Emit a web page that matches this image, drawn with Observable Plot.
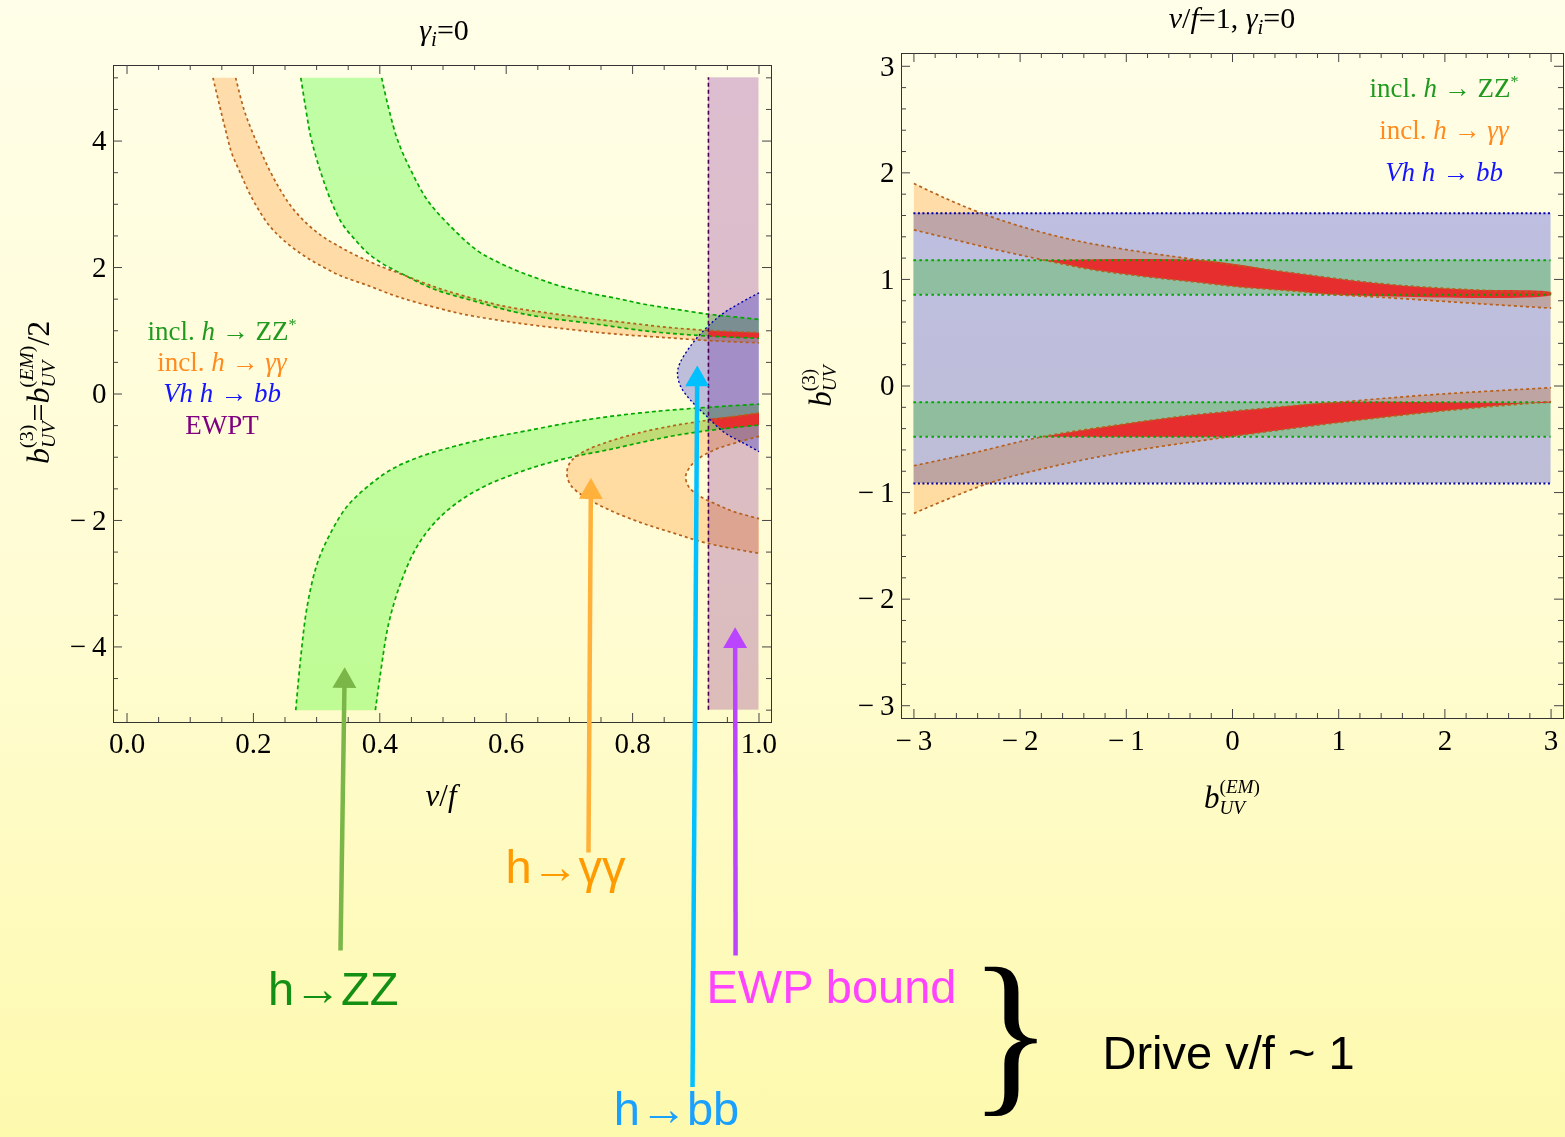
<!DOCTYPE html>
<html><head><meta charset="utf-8">
<script src="https://cdn.jsdelivr.net/npm/d3@7"></script>
<script src="https://cdn.jsdelivr.net/npm/@observablehq/plot@0.6"></script>
<style>
html,body{margin:0;padding:0;}
#page{position:relative;width:1565px;height:1137px;overflow:hidden;background:linear-gradient(180deg,#fffee8 0%,#fffcd2 55%,#fdf9ad 100%);}
#page svg{position:absolute;left:0;top:0;}
.t{position:absolute;left:0;top:0;font-family:"Liberation Serif",serif;white-space:nowrap;line-height:1;color:#000;}
.mk{display:inline-block;width:0;height:0;}
.sb{font-size:0.7em;position:relative;top:0.3em;}
.sp{font-size:0.6em;position:relative;top:-0.6em;}
.st{display:inline-flex;flex-direction:column;font-size:0.62em;line-height:1.1;vertical-align:0.8em;}
</style></head><body><div id="page"></div>
<script>
// ================= DATA =================
// ---- Left panel: x = v/f, y = b_UV^(3) = b_UV^(EM)/2 ----
const zzUpperOuter = [[0.403,5.0],[0.412,4.60],[0.428,4.02],[0.449,3.54],[0.475,3.07],[0.507,2.70],[0.554,2.27],[0.586,2.09],[0.617,1.95],[0.649,1.83],[0.681,1.72],[0.712,1.64],[0.744,1.57],[0.781,1.50],[0.813,1.43],[0.849,1.37],[0.881,1.32],[0.921,1.26],[0.950,1.23],[1.0,1.18]];
const zzUpperInner = [[0.275,5.0],[0.283,4.50],[0.290,4.10],[0.299,3.75],[0.310,3.40],[0.323,3.05],[0.340,2.70],[0.360,2.45],[0.382,2.22],[0.406,2.05],[0.433,1.91],[0.485,1.66],[0.549,1.47],[0.612,1.30],[0.660,1.21],[0.739,1.11],[0.818,1.00],[0.897,0.93],[1.0,0.88]];
const zzLowerOuter = [[0.267,-5.0],[0.275,-4.15],[0.285,-3.36],[0.301,-2.68],[0.322,-2.20],[0.348,-1.78],[0.380,-1.47],[0.417,-1.20],[0.464,-0.99],[0.517,-0.83],[0.570,-0.70],[0.623,-0.60],[0.654,-0.54],[0.707,-0.44],[0.760,-0.36],[0.812,-0.30],[0.865,-0.25],[0.950,-0.19],[1.0,-0.16]];
const zzLowerInner = [[0.393,-5.0],[0.401,-4.42],[0.414,-3.63],[0.433,-2.99],[0.459,-2.41],[0.491,-1.99],[0.528,-1.68],[0.570,-1.44],[0.617,-1.25],[0.660,-1.11],[0.707,-0.99],[0.760,-0.885],[0.812,-0.77],[0.865,-0.66],[0.918,-0.58],[1.0,-0.49]];
const aaUpperOuter = [[0.136,5.0],[0.156,4.17],[0.166,3.80],[0.180,3.48],[0.193,3.19],[0.209,2.90],[0.227,2.64],[0.248,2.43],[0.275,2.22],[0.301,2.06],[0.338,1.87],[0.380,1.72],[0.422,1.56],[0.454,1.46],[0.507,1.32],[0.533,1.26],[0.612,1.13],[0.702,1.02],[0.770,0.95],[0.855,0.89],[0.929,0.84],[1.0,0.81]];
const aaUpperInner = [[0.172,5.0],[0.185,4.50],[0.198,4.15],[0.211,3.85],[0.227,3.51],[0.243,3.22],[0.261,2.95],[0.285,2.69],[0.311,2.48],[0.338,2.32],[0.369,2.16],[0.406,2.00],[0.433,1.90],[0.485,1.70],[0.530,1.56],[0.596,1.39],[0.660,1.29],[0.728,1.20],[0.797,1.12],[0.860,1.05],[0.929,1.00],[1.0,0.97]];
const aaLowerOuter = [[1.0,-0.30],[0.929,-0.40],[0.902,-0.44],[0.865,-0.50],[0.812,-0.61],[0.760,-0.76],[0.723,-0.91],[0.702,-1.07],[0.696,-1.25],[0.702,-1.44],[0.723,-1.62],[0.760,-1.82],[0.812,-2.03],[0.865,-2.20],[0.918,-2.36],[1.0,-2.52]];
const aaLowerInner = [[1.0,-0.67],[0.971,-0.75],[0.929,-0.885],[0.902,-1.04],[0.889,-1.18],[0.884,-1.31],[0.889,-1.47],[0.907,-1.62],[0.934,-1.75],[0.960,-1.86],[1.0,-1.97]];
const bbBoundary = [[1.0,1.60],[0.944,1.28],[0.913,1.01],[0.891,0.75],[0.875,0.49],[0.871,0.33],[0.876,0.12],[0.891,-0.09],[0.918,-0.36],[0.944,-0.60],[0.976,-0.78],[1.0,-0.91]];
const ewptBand = [{x1:0.92, x2:1.0, y1:-5, y2:5}];
const redLeftUpper = [[0.92,1.00],[0.96,0.985],[1.0,0.97],[1.0,0.885],[0.96,0.895],[0.92,0.91]];
const redLeftLower = [[0.921,-0.39],[0.96,-0.35],[1.0,-0.30],[1.0,-0.49],[0.97,-0.525],[0.943,-0.555],[0.93,-0.47]];

// tick values / labels (left)
const xTicksL = [0, 0.2, 0.4, 0.6, 0.8, 1.0];
const xTickLabelsL = ["0.0", "0.2", "0.4", "0.6", "0.8", "1.0"];
const yTicksL = [-4, -2, 0, 2, 4];
const yTickLabelsL = ["\u2212\u20094", "\u2212\u20092", "0", "2", "4"];

// annotations (in left-panel coordinates)
const arrows = [
  {x1:0.3378, y1:-8.80, x2:0.3441, y2:-4.32, color:"#7ab648"},
  {x1:0.7302, y1:-7.25, x2:0.7339, y2:-1.33, color:"#ffb13b"},
  {x1:0.8948, y1:-10.96, x2:0.9022, y2:0.45, color:"#00c0ff"},
  {x1:0.9630, y1:-8.88, x2:0.9623, y2:-3.69, color:"#bb44ff"}
];
const notes = [
  {text:"h\u2192ZZ", x:0.3263, y:-9.42, color:"#139013"},
  {text:"h\u2192\u03b3\u03b3", x:0.6938, y:-7.50, color:"#ff9a00"},
  {text:"EWP bound", x:1.1147, y:-9.40, color:"#ff44ff"},
  {text:"h\u2192bb", x:0.8695, y:-11.33, color:"#1aa0ff"},
  {text:"Drive v/f ~ 1", x:1.7430, y:-10.44, color:"#000000"}
];

// ---- Right panel: x = b_UV^(EM), y = b_UV^(3), v/f = 1 ----
const bRangeR = [-3, 3];
const bbBandR = [-0.915, 1.62];
const zzBandsR = [[0.857, 1.18], [-0.476, -0.153]];
const aaUpperTopR = [[-3.0,1.90],[-2.7,1.76],[-2.4,1.635],[-2.0,1.50],[-1.5,1.37],[-1.0,1.28],[-0.3,1.18],[0.5,1.07],[1.4,0.96],[2.2,0.905],[3.0,0.876]];
const aaUpperBotR = [[-3.0,1.465],[-2.69,1.39],[-2.23,1.28],[-1.77,1.18],[-1.31,1.09],[-0.85,1.03],[-0.39,0.98],[0.07,0.93],[0.53,0.895],[0.98,0.857],[1.44,0.83],[1.90,0.80],[2.36,0.77],[3.0,0.73]];
const aaLowerTopR = [[-3.0,-0.748],[-2.46,-0.632],[-1.79,-0.476],[-1.08,-0.366],[-0.39,-0.275],[0.3,-0.21],[0.98,-0.153],[1.9,-0.08],[3.0,-0.016]];
const aaLowerBotR = [[-3.0,-1.195],[-2.30,-0.914],[-1.77,-0.773],[-1.08,-0.632],[-0.03,-0.476],[0.98,-0.345],[1.90,-0.241],[3.0,-0.147]];
const redRightUpper = [[-1.77,1.18],[-0.3,1.18],[0.5,1.07],[1.4,0.96],[2.2,0.905],[3.0,0.876],[3.0,0.857],[0.98,0.857],[0.53,0.895],[0.07,0.93],[-0.39,0.98],[-0.85,1.03],[-1.31,1.09]];
const redRightLower = [[-1.79,-0.476],[-1.08,-0.366],[-0.39,-0.275],[0.3,-0.21],[0.98,-0.153],[3.0,-0.153],[3.0,-0.15],[1.90,-0.241],[0.98,-0.345],[-0.03,-0.476]];

const xTicksR = [-3, -2, -1, 0, 1, 2, 3];
const xTickLabelsR = ["\u2212\u20093", "\u2212\u20092", "\u2212\u20091", "0", "1", "2", "3"];
const yTicksR = [-3, -2, -1, 0, 1, 2, 3];
const yTickLabelsR = ["\u2212\u20093", "\u2212\u20092", "\u2212\u20091", "0", "1", "2", "3"];

// ================= STYLE =================
const W = 1565, H = 1137;
const C = {
  zzFill: "#c0ffb9", aaFill: "#ffdebf", bbFill: "#bec0ff", ewFill: "#dcbfe8", red: "#e62e2e",
  zzLine: "#00a800", aaLine: "#b5611c", bbLine: "#0000a8", ewLine: "#4a0050"
};
const FONT = "Liberation Serif";
const TICKFS = 29;

const poly = (...edges) => { const o = []; for (const e of edges) o.push(e[0], ...e, e[e.length - 1]); return o; };
const rev = a => a.slice().reverse();
const P = {x: d => d[0], y: d => d[1]};
const fillLine = (pts, fill, blend = true) =>
  Plot.line(pts, {...P, fill, stroke: "none", curve: "catmull-rom", mixBlendMode: blend ? "multiply" : undefined});
const edgeLine = (pts, stroke, dash, sw = 1.7) =>
  Plot.line(pts, {...P, stroke, strokeWidth: sw, strokeDasharray: dash, strokeLinecap: "butt", curve: "catmull-rom"});

function frameTicks(xMaj, xMin, yMaj, yMin, fw, fh) {
  const L = 9, S = 5, st = {stroke: "#444", strokeWidth: 1};
  const m = [];
  for (const [vals, len] of [[xMaj, L], [xMin, S]]) {
    m.push(Plot.tickX(vals, {x: d => d, insetTop: fh - len, ...st}));
    m.push(Plot.tickX(vals, {x: d => d, insetBottom: fh - len, ...st}));
  }
  for (const [vals, len] of [[yMaj, L], [yMin, S]]) {
    m.push(Plot.tickY(vals, {y: d => d, insetRight: fw - len, ...st}));
    m.push(Plot.tickY(vals, {y: d => d, insetLeft: fw - len, ...st}));
  }
  return m;
}
const minors = (a, b, step, majors) => d3.range(Math.round((b - a) / step) + 1).map(i => +(a + i * step).toFixed(4)).filter(v => !majors.some(M => Math.abs(M - v) < 1e-6));

// ================= LEFT PLOT =================
const mL = {top: 65, right: 794, bottom: 415, left: 113};
const xDomL = [-0.0214, 1.0198], yDomL = [-5.195, 5.195];
const fwL = W - mL.left - mL.right, fhL = H - mL.top - mL.bottom;
const kxL = fwL / (xDomL[1] - xDomL[0]), kyL = fhL / (yDomL[1] - yDomL[0]);

const leftPlot = Plot.plot({
  width: W, height: H,
  marginTop: mL.top, marginRight: mL.right, marginBottom: mL.bottom, marginLeft: mL.left,
  x: {domain: xDomL, axis: null}, y: {domain: yDomL, axis: null},
  color: {type: "identity"},
  style: {background: "transparent", overflow: "visible"},
  marks: [
    fillLine(poly(zzUpperOuter, rev(zzUpperInner)), C.zzFill),
    fillLine(poly(zzLowerOuter, rev(zzLowerInner)), C.zzFill),
    fillLine(poly(aaUpperOuter, rev(aaUpperInner)), C.aaFill),
    fillLine(poly(aaLowerOuter, rev(aaLowerInner)), C.aaFill),
    fillLine(poly(bbBoundary), C.bbFill),
    Plot.rect(ewptBand, {x1: "x1", x2: "x2", y1: "y1", y2: "y2", fill: C.ewFill, mixBlendMode: "multiply"}),
    Plot.line(redLeftUpper, {...P, fill: C.red, stroke: "none"}),
    Plot.line(redLeftLower, {...P, fill: C.red, stroke: "none"}),
    edgeLine(zzUpperOuter, C.zzLine, "4,3"), edgeLine(zzUpperInner, C.zzLine, "4,3"),
    edgeLine(zzLowerOuter, C.zzLine, "4,3"), edgeLine(zzLowerInner, C.zzLine, "4,3"),
    edgeLine(aaUpperOuter, C.aaLine, "3,3"), edgeLine(aaUpperInner, C.aaLine, "3,3"),
    edgeLine(aaLowerOuter, C.aaLine, "3,3"), edgeLine(aaLowerInner, C.aaLine, "3,3"),
    edgeLine(bbBoundary, C.bbLine, "2,2.5", 1.4),
    Plot.ruleX(ewptBand, {x: "x1", y1: "y1", y2: "y2", stroke: C.ewLine, strokeWidth: 1.6, strokeDasharray: "4,3"}),
    Plot.frame({stroke: "#333", strokeWidth: 1}),
    ...frameTicks(xTicksL, minors(0, 1, 0.05, xTicksL), yTicksL, minors(-5, 5, 0.5, yTicksL), fwL, fhL),
    Plot.text(xTicksL, {x: d => d, frameAnchor: "bottom", dy: 30, text: (d, i) => xTickLabelsL[i], fontFamily: FONT, fontSize: TICKFS, fill: "#000"}),
    Plot.text(yTicksL, {y: d => d, frameAnchor: "left", dx: -7, textAnchor: "end", text: (d, i) => yTickLabelsL[i], fontFamily: FONT, fontSize: TICKFS, fill: "#000"}),
    // annotation arrows
    Plot.link(arrows, {x1: "x1", y1: "y1", x2: "x2", y2: d => d.y2 - 16 / kyL, stroke: "color", strokeWidth: 4.5}),
    Plot.dot(arrows, {x: "x2", y: "y2", symbol: "triangle", r: 8.9, fill: "color", dy: 13.8,
      rotate: d => Math.atan2((d.x2 - d.x1) * kxL, (d.y2 - d.y1) * kyL) * 180 / Math.PI}),
    Plot.text(notes, {x: "x", y: "y", text: "text", fill: "color", fontFamily: "Liberation Sans", fontSize: 47, lineAnchor: "middle"})
  ]
});

// ================= RIGHT PLOT =================
const mR = {top: 53, right: 2, bottom: 419, left: 901};
const xDomR = [-3.117, 3.117], yDomR = [-3.12, 3.12];
const fwR = W - mR.left - mR.right, fhR = H - mR.top - mR.bottom;
const bandRect = ([lo, hi]) => ({x1: bRangeR[0], x2: bRangeR[1], y1: lo, y2: hi});

const rightPlot = Plot.plot({
  width: W, height: H,
  marginTop: mR.top, marginRight: mR.right, marginBottom: mR.bottom, marginLeft: mR.left,
  x: {domain: xDomR, axis: null}, y: {domain: yDomR, axis: null},
  style: {background: "transparent", overflow: "visible"},
  marks: [
    Plot.rect([bandRect(bbBandR)], {x1: "x1", x2: "x2", y1: "y1", y2: "y2", fill: C.bbFill, mixBlendMode: "multiply"}),
    Plot.rect(zzBandsR.map(bandRect), {x1: "x1", x2: "x2", y1: "y1", y2: "y2", fill: C.zzFill, mixBlendMode: "multiply"}),
    fillLine(poly(aaUpperTopR, rev(aaUpperBotR)), C.aaFill),
    fillLine(poly(aaLowerTopR, rev(aaLowerBotR)), C.aaFill),
    Plot.line(redRightUpper, {...P, fill: C.red, stroke: "none", curve: "catmull-rom"}),
    Plot.line(redRightLower, {...P, fill: C.red, stroke: "none", curve: "catmull-rom"}),
    Plot.ruleY(zzBandsR.flat(), {y: d => d, x1: bRangeR[0], x2: bRangeR[1], stroke: C.zzLine, strokeWidth: 2, strokeDasharray: "2.5,3.5"}),
    Plot.ruleY(bbBandR, {y: d => d, x1: bRangeR[0], x2: bRangeR[1], stroke: C.bbLine, strokeWidth: 2, strokeDasharray: "2,2.5"}),
    edgeLine(aaUpperTopR, C.aaLine, "3,3"), edgeLine(aaUpperBotR, C.aaLine, "3,3"),
    edgeLine(aaLowerTopR, C.aaLine, "3,3"), edgeLine(aaLowerBotR, C.aaLine, "3,3"),
    Plot.frame({stroke: "#333", strokeWidth: 1}),
    ...frameTicks(xTicksR, minors(-3, 3, 0.2, xTicksR), yTicksR, minors(-3, 3, 0.2, yTicksR), fwR, fhR),
    Plot.text(xTicksR, {x: d => d, frameAnchor: "bottom", dy: 31, text: (d, i) => xTickLabelsR[i], fontFamily: FONT, fontSize: TICKFS, fill: "#000"}),
    Plot.text(yTicksR, {y: d => d, frameAnchor: "left", dx: -7, textAnchor: "end", text: (d, i) => yTickLabelsR[i], fontFamily: FONT, fontSize: TICKFS, fill: "#000"})
  ]
});

const page = document.getElementById("page");
page.appendChild(leftPlot);
page.appendChild(rightPlot);

// ================= RICH TEXT (titles, axis labels, legends, brace) =================
function label(html, o) {
  const d = document.createElement("div");
  d.className = "t";
  d.style.fontSize = o.fs + "px";
  if (o.lh) d.style.lineHeight = o.lh;
  if (o.color) d.style.color = o.color;
  d.innerHTML = html + '<span class="mk"></span>';
  page.appendChild(d);
  const r = d.getBoundingClientRect(), m = d.lastChild.getBoundingClientRect();
  const base = m.bottom - r.top, w = r.width;
  if (o.rotate) {
    const cx = w / 2, cy = base - 0.3 * o.fs;
    d.style.left = (o.x - cx) + "px";
    d.style.top = (o.y - cy) + "px";
    d.style.transformOrigin = cx + "px " + cy + "px";
    d.style.transform = "rotate(-90deg)";
  } else if (o.scale) {
    // ink centre of the glyph is placed at (x, y) and the glyph is stretched about it
    const cy = base - o.inkMid * o.fs;
    d.style.left = (o.x - w / 2) + "px";
    d.style.top = (o.y - cy) + "px";
    d.style.transformOrigin = (w / 2) + "px " + cy + "px";
    d.style.transform = `scale(${o.scale[0]}, ${o.scale[1]})`;
  } else {
    const ax = o.align === "left" ? 0 : o.align === "right" ? w : w / 2;
    d.style.left = (o.x - ax) + "px";
    d.style.top = (o.y - base) + "px";
  }
}
const bUV = sup => `<i>b</i><span class="st"><span>(${sup})</span><span><i>UV</i></span></span>`;
const legendLines = [
  {html: 'incl. <i>h</i> \u2192 ZZ<span class="sp">*</span>', color: "#1f9a1f"},
  {html: 'incl. <i>h</i> \u2192 <i>\u03b3\u03b3</i>', color: "#ff8a1e"},
  {html: '<i>Vh h</i> \u2192 <i>bb</i>', color: "#1414ff"},
  {html: 'EWPT', color: "#800080"}
];
const legendBaseL = [340, 371, 402, 434];
const legendBaseR = [97, 139, 181];

label('<i>\u03b3</i><span class="sb"><i>i</i></span>=0', {x: 444, y: 40, fs: 30});
label('<i>v</i>/<i>f</i>=1, <i>\u03b3</i><span class="sb"><i>i</i></span>=0', {x: 1232, y: 28, fs: 30});
label('<i>v</i>/<i>f</i>', {x: 441, y: 806, fs: 31});
label(bUV("<i>EM</i>"), {x: 1232, y: 808, fs: 31});
label(bUV("3"), {x: 822, y: 386, fs: 31, rotate: true});
label(bUV("3") + "=" + bUV("<i>EM</i>") + "/2", {x: 40, y: 392, fs: 32, rotate: true});
legendLines.forEach((l, i) => label(l.html, {x: 222, y: legendBaseL[i], fs: 27, color: l.color}));
legendLines.slice(0, 3).forEach((l, i) => label(l.html, {x: 1444, y: legendBaseR[i], fs: 27, color: l.color}));
label('}', {x: 1011, y: 1040, fs: 120, lh: 0.8, inkMid: 0.288, scale: [1.45, 1.5]});
</script></body></html>
